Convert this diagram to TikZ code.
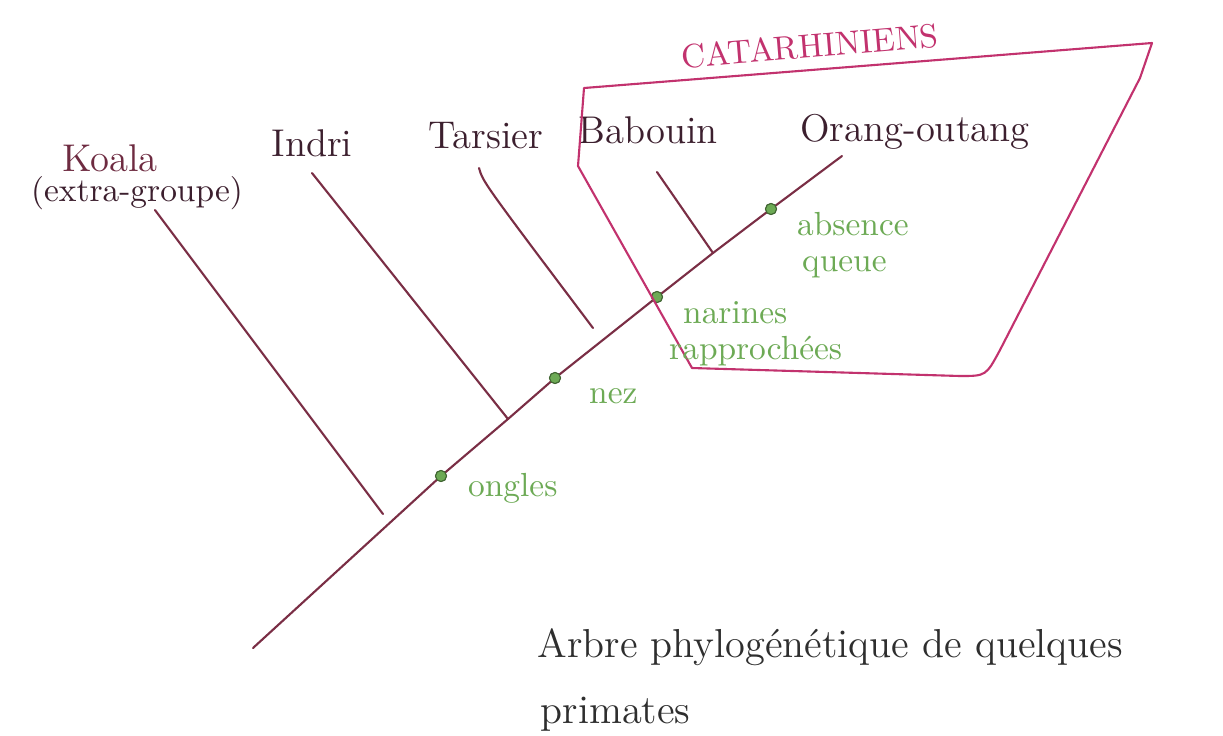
\documentclass[tikz,border=0pt]{standalone}
\usepackage{tikz}
\usetikzlibrary{positioning}
\definecolor{branchred}{HTML}{7A2E45}
\definecolor{cladepink}{HTML}{C2326E}
\definecolor{taxonink}{HTML}{3C1F2E}
\definecolor{traitgreen}{HTML}{6DAA55}
\definecolor{titleink}{HTML}{2E2E2E}

\begin{document}
\begin{tikzpicture}[x=1cm, y=-1cm, node distance=0.05cm,
    branch/.style={draw=branchred, line width=0.6pt, line cap=round},
    taxon/.style={font=\fontsize{11}{13}\selectfont, text=taxonink, inner sep=1pt},
    trait/.style={font=\fontsize{9.5}{11}\selectfont, text=traitgreen, inner sep=1pt, anchor=west},
    apo/.style={circle, fill=traitgreen, draw=traitgreen!60!black, line width=0.3pt,
                inner sep=0pt, minimum size=0.11cm}]
  \useasboundingbox[fill=white] (0,0) rectangle (12.23,7.35);

  % tronc
  \coordinate (root) at (2.53,6.48);
  \coordinate (jindri) at (5.08,4.19);
  \coordinate (jbabouin) at (7.13,2.53);
  \coordinate (tip) at (8.42,1.56);
  \node[apo] (ongles) at (4.41,4.76) {};
  \node[apo] (nez) at (5.55,3.78) {};
  \node[apo] (narines) at (6.57,2.97) {};
  \node[apo] (queue) at (7.71,2.09) {};
  \draw[branch] (root) -- (ongles.center) -- (jindri) -- (nez.center)
    -- (narines.center) -- (jbabouin) -- (queue.center) -- (tip);
  \foreach \d in {ongles, nez, narines, queue} \node[apo] at (\d) {};

  % branches
  \coordinate (koalatop) at (1.55,2.10);
  \coordinate (koalaend) at (3.83,5.14);
  \coordinate (indritop) at (3.12,1.73);
  \coordinate (tarsiertop) at (4.79,1.68);
  \coordinate (tarsierend) at (5.93,3.28);
  \coordinate (baboutop) at (6.57,1.72);
  \draw[branch] (koalatop) -- (koalaend);
  \draw[branch] (indritop) -- (jindri);
  \draw[branch] (tarsiertop) .. controls (4.83,1.82) .. (tarsierend);
  \draw[branch] (baboutop) -- (jbabouin);

  % taxons
  \node[taxon, text=branchred!80!taxonink] (koala) at (1.10,1.58) {Koala};
  \node[taxon, font=\fontsize{9.5}{11}\selectfont] (extra) at (1.37,1.93) {(extra-groupe)};
  \node[taxon] (indri) at (3.12,1.43) {Indri};
  \node[taxon] (tarsier) at (4.86,1.36) {Tarsier};
  \node[taxon] (babouin) at (6.48,1.30) {Babouin};
  \node[taxon] (orang) at (9.15,1.32) {Orang-outang};

  % groupe des catarhiniens
  \draw[draw=cladepink, line width=0.6pt, line join=round]
    (5.84,0.88) -- (5.78,1.66) -- (6.92,3.68) -- (9.60,3.76)
    .. controls (9.86,3.76) .. (10.00,3.50) -- (11.40,0.78) -- (11.52,0.43) -- cycle;
  \node[font=\fontsize{9.5}{11}\selectfont, text=cladepink, rotate=4.8] (catar) at (8.10,0.46) {CATARHINIENS};

  % caracteres
  \node[trait] (absence) at (7.93,2.24) {absence};
  \node[trait, below right=0.12cm and 0.05cm of absence.south west, anchor=north west] (queuetxt) {queue};
  \node[trait] (narinestxt) at (6.79,3.13) {narines};
  \node[trait, below right=0.04cm and -0.14cm of narinestxt.south west, anchor=north west] (rappro) {rapprochées};
  \node[trait] (neztxt) at (5.85,3.96) {nez};
  \node[trait] (onglestxt) at (4.64,4.88) {ongles};

  % titre
  \node[font=\fontsize{11.5}{14}\selectfont, text=titleink, anchor=west, inner sep=0pt] (titre) at (5.37,6.47)
    {Arbre phylogénétique de quelques};
  \node[font=\fontsize{11.5}{14}\selectfont, text=titleink, inner sep=0pt,
        below right=0.3cm and 0.03cm of titre.south west, anchor=north west] (primates) {primates};
\end{tikzpicture}
\end{document}
